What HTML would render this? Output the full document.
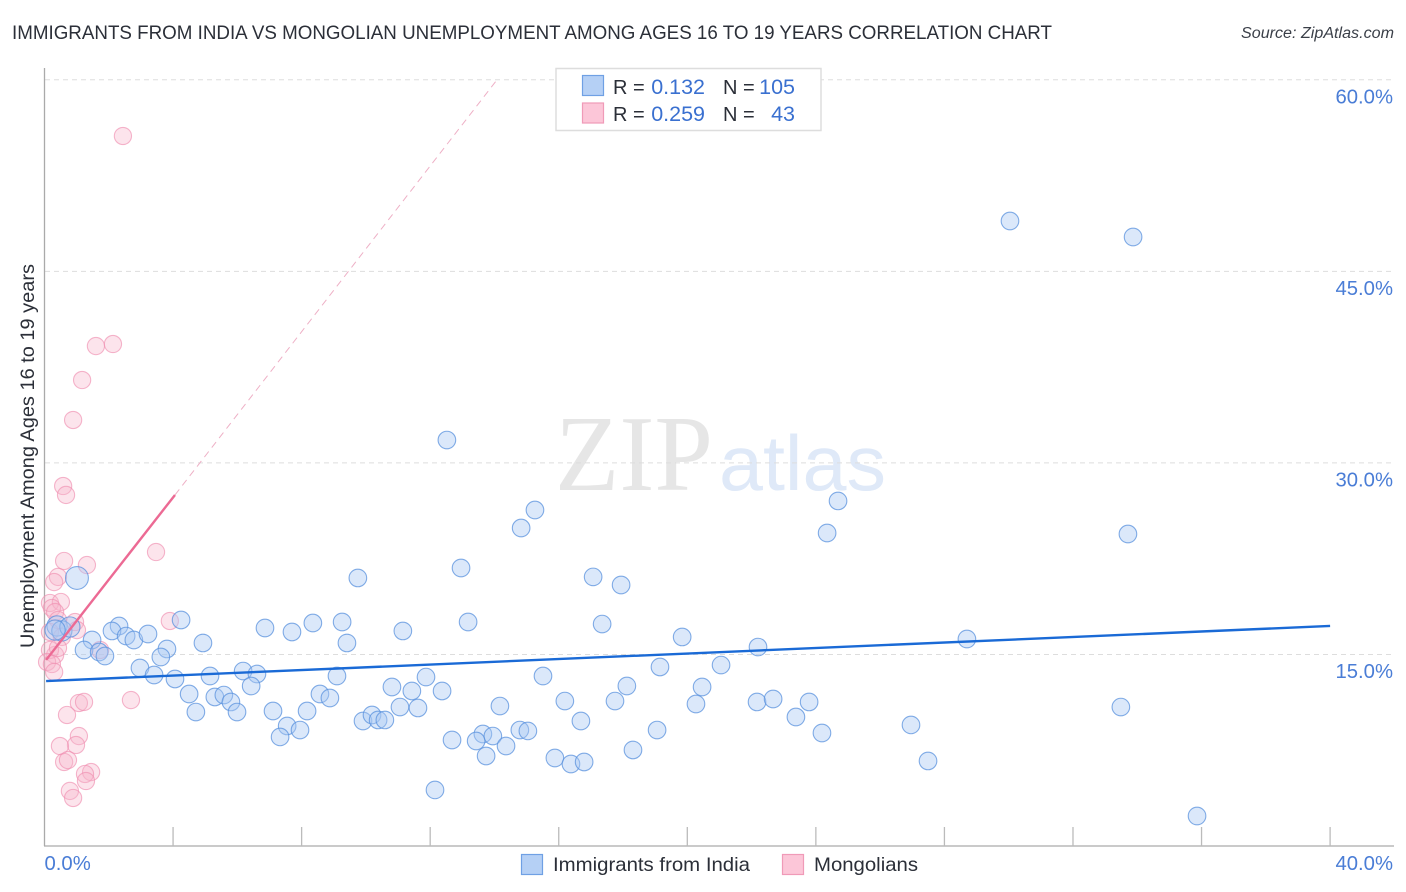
<!DOCTYPE html>
<html lang="en">
<head>
<meta charset="utf-8">
<title>Immigrants from India vs Mongolian Unemployment Correlation Chart</title>
<style>
html,body{margin:0;padding:0;background:#fff;width:1406px;height:892px;overflow:hidden}
svg{display:block;font-family:"Liberation Sans",sans-serif}
</style>
</head>
<body>
<svg id="chart" xmlns="http://www.w3.org/2000/svg" width="1406" height="892" viewBox="0 0 1406 892">
  <rect width="1406" height="892" fill="#ffffff"/>
  <text x="12" y="39" font-size="19.5" fill="#2b2f38" textLength="1040" lengthAdjust="spacingAndGlyphs">IMMIGRANTS FROM INDIA VS MONGOLIAN UNEMPLOYMENT AMONG AGES 16 TO 19 YEARS CORRELATION CHART</text>
  <text x="1241" y="38" font-size="15.5" font-style="italic" fill="#3a3f48" textLength="153" lengthAdjust="spacingAndGlyphs">Source: ZipAtlas.com</text>
  <g>
    <text x="555" y="490" font-family="'Liberation Serif',serif" font-size="108" fill="#e6e6e6" textLength="158" lengthAdjust="spacingAndGlyphs">ZIP</text>
    <text x="719" y="490" font-size="78" fill="#dfe9f8" textLength="167" lengthAdjust="spacingAndGlyphs">atlas</text>
  </g>
  <g id="grid"></g>
  <g id="axes"></g>
  <g id="pink-points"></g>
  <g id="blue-points"></g>
  <g id="trends"></g>
  <g id="tick-labels"></g>
  <text transform="translate(34,648) rotate(-90)" font-size="19.5" fill="#2b2f38" textLength="384" lengthAdjust="spacingAndGlyphs">Unemployment Among Ages 16 to 19 years</text>
  <g>
    <rect x="556" y="68.5" width="265" height="62" fill="#ffffff" stroke="#dddddd" stroke-width="1.5"/>
    <rect x="582.5" y="75.5" width="21" height="20" fill="#b5d0f5" stroke="#6fa0e4" stroke-width="1.2"/>
    <rect x="582.5" y="103" width="21" height="20" fill="#fcc6d8" stroke="#f09ab8" stroke-width="1.2"/>
    <g font-size="21.5">
      <text x="613" y="94" font-size="20" fill="#2b2f38">R =</text>
      <text x="705" y="94" fill="#3a70d0" text-anchor="end">0.132</text>
      <text x="723" y="94" font-size="20" fill="#2b2f38">N =</text>
      <text x="795" y="94" fill="#3a70d0" text-anchor="end">105</text>
      <text x="613" y="121" font-size="20" fill="#2b2f38">R =</text>
      <text x="705" y="121" fill="#3a70d0" text-anchor="end">0.259</text>
      <text x="723" y="121" font-size="20" fill="#2b2f38">N =</text>
      <text x="795" y="121" fill="#3a70d0" text-anchor="end">43</text>
    </g>
  </g>
  <g>
    <rect x="521.5" y="854.5" width="21" height="20" fill="#b5d0f5" stroke="#6fa0e4" stroke-width="1.2"/>
    <text x="553" y="871" font-size="19.5" fill="#2b2f38" textLength="197" lengthAdjust="spacingAndGlyphs">Immigrants from India</text>
    <rect x="782.5" y="854.5" width="21" height="20" fill="#fcc6d8" stroke="#f09ab8" stroke-width="1.2"/>
    <text x="814" y="871" font-size="19.5" fill="#2b2f38" textLength="104" lengthAdjust="spacingAndGlyphs">Mongolians</text>
  </g>
</svg>
<script>
const yTickValues = [15, 30, 45, 60];
const yTickLabels = ["15.0%", "30.0%", "45.0%", "60.0%"];
const xTickValues = [0, 4, 8, 12, 16, 20, 24, 28, 32, 36, 40];
const xEndValues = [0, 40];
const xEndLabels = ["0.0%", "40.0%"];

const indiaX = [30.04,33.87,12.52,15.26,14.83,24.69,24.35,33.71,12.96,9.75,17.07,17.94,1.01,4.25,2.32,2.10,2.54,2.78,3.22,1.48,1.23,1.70,1.88,3.81,3.62,4.93,6.86,7.70,8.35,9.26,9.41,11.15,13.18,17.35,19.84,22.20,28.70,2.97,3.41,4.06,5.15,6.18,6.61,6.43,9.10,11.87,15.51,19.15,21.05,18.12,20.46,4.50,5.30,5.58,5.80,4.71,5.99,7.11,8.17,8.57,8.88,10.81,11.43,12.37,11.06,11.62,14.17,16.19,17.75,20.27,22.17,22.67,23.79,23.38,16.69,9.91,10.19,10.38,10.59,7.55,7.95,7.33,12.68,13.64,13.43,13.95,14.79,15.04,14.36,13.74,19.06,18.31,15.88,16.38,16.79,24.19,26.96,27.49,33.49,12.15,35.86,0.39,0.54,0.79,0.33];
const indiaY = [48.94,47.69,31.79,26.31,24.90,27.02,24.51,24.43,21.77,20.99,21.07,20.44,20.99,17.70,17.23,16.84,16.44,16.13,16.60,16.13,15.35,15.19,14.88,15.43,14.80,15.90,17.07,16.76,17.46,17.54,15.90,16.84,17.54,17.38,16.37,15.58,16.21,13.94,13.39,13.08,13.31,13.70,13.47,12.53,13.31,13.23,13.31,14.02,14.17,12.53,12.45,11.90,11.67,11.82,11.28,10.49,10.49,10.57,10.57,11.90,11.59,12.45,12.14,12.14,10.88,10.81,10.96,11.35,11.35,11.12,11.28,11.51,11.28,10.10,9.79,9.79,10.26,9.87,9.87,9.40,9.08,8.54,8.30,8.77,8.22,8.61,9.08,9.01,7.83,7.05,9.08,7.52,6.89,6.42,6.58,8.85,9.48,6.66,10.88,4.39,2.35,17.23,16.84,17.15,16.91];
const indiaSize = [1,1,1,1,1,1,1,1,1,1,1,1,1.3,1,1,1,1,1,1,1,1,1,1,1,1,1,1,1,1,1,1,1,1,1,1,1,1,1,1,1,1,1,1,1,1,1,1,1,1,1,1,1,1,1,1,1,1,1,1,1,1,1,1,1,1,1,1,1,1,1,1,1,1,1,1,1,1,1,1,1,1,1,1,1,1,1,1,1,1,1,1,1,1,1,1,1,1,1,1,1,1,1.15,1.15,1.15,1.15];

const mongolX = [2.44,1.60,2.13,1.17,0.89,0.58,0.67,3.47,0.61,1.32,0.42,0.30,3.90,0.17,0.51,0.23,0.33,0.42,0.95,1.01,0.17,0.54,1.73,0.33,0.17,0.08,0.23,0.30,2.69,1.07,1.23,0.70,1.07,0.98,0.48,0.61,0.73,1.45,1.26,1.29,0.79,0.89,0.42];
const mongolY = [55.60,39.15,39.31,36.49,33.36,28.19,27.49,23.02,22.32,22.00,21.07,20.67,17.62,19.03,19.11,18.64,18.32,17.70,17.54,16.91,16.76,16.37,15.35,14.96,15.35,14.41,14.25,13.63,11.43,11.20,11.28,10.26,8.61,7.91,7.83,6.58,6.73,5.79,5.64,5.09,4.31,3.76,15.51];

const indiaTrendX = [0.05, 40];
const indiaTrendY = [12.92, 17.23];
const mongolSolidX = [0.05, 4.06];
const mongolSolidY = [14.57, 27.49];
const mongolDashX = [4.06, 14.08];
const mongolDashY = [27.49, 60];

const sx = v => 44.5 + v * 32.14;
const sy = v => 846 - v * 12.77;
const NS = "http://www.w3.org/2000/svg";
function mk(tag, parent, attrs) {
  const el = document.createElementNS(NS, tag);
  for (const k in attrs) el.setAttribute(k, attrs[k]);
  document.getElementById(parent).appendChild(el);
  return el;
}

yTickValues.forEach((v, i) => {
  const line = mk("line", "grid", {x1: 45, x2: 1394, y1: sy(v), y2: sy(v), stroke: "#dddddd", "stroke-width": 1, "stroke-dasharray": "5 4"});
  
  
  const t = mk("text", "tick-labels", {x: 1393, y: sy(v) + 23.5, "font-size": 20.3, fill: "#4a7dd6", "text-anchor": "end"});
  t.textContent = yTickLabels[i];
  
  
});

const yAxis = mk("line", "axes", {x1: 44.5, x2: 44.5, y1: 68, y2: 846, stroke: "#aaaaaa", "stroke-width": 1.3});


const xAxis = mk("line", "axes", {x1: 44, x2: 1394, y1: 846, y2: 846, stroke: "#aaaaaa", "stroke-width": 1.3});



xTickValues.forEach(v => {
  if (v === 0) return;
  const tick = mk("line", "axes", {x1: sx(v), x2: sx(v), y1: 827, y2: 846, stroke: "#bbbbbb", "stroke-width": 1.3});
  
  
});

xEndValues.forEach((v, i) => {
  const t = mk("text", "tick-labels", {x: i === 0 ? sx(v) : 1393, y: 870, "font-size": 20.3, fill: "#4a7dd6", "text-anchor": i === 0 ? "start" : "end"});
  t.textContent = xEndLabels[i];
  
  
});

mongolX.forEach((v, i) => {
  const c = mk("circle", "pink-points", {cx: sx(v), cy: sy(mongolY[i]), r: 8.6, fill: "#f8b4cb", "fill-opacity": 0.36, stroke: "#f08fb0", "stroke-opacity": 0.65, "stroke-width": 1.1});
  
  
});

indiaX.forEach((v, i) => {
  const c = mk("circle", "blue-points", {cx: sx(v), cy: sy(indiaY[i]), r: 8.8 * indiaSize[i], fill: "#a9c9f4", "fill-opacity": 0.42, stroke: "#5a92de", "stroke-opacity": 0.75, "stroke-width": 1.1});
  
  
});

const t1 = mk("line", "trends", {x1: sx(indiaTrendX[0]), y1: sy(indiaTrendY[0]), x2: sx(indiaTrendX[1]), y2: sy(indiaTrendY[1]), stroke: "#1a6ad6", "stroke-width": 2.4});


const t2 = mk("line", "trends", {x1: sx(mongolSolidX[0]), y1: sy(mongolSolidY[0]), x2: sx(mongolSolidX[1]), y2: sy(mongolSolidY[1]), stroke: "#ec6a94", "stroke-width": 2.4});


const t3 = mk("line", "trends", {x1: sx(mongolDashX[0]), y1: sy(mongolDashY[0]), x2: sx(mongolDashX[1]), y2: sy(mongolDashY[1]), stroke: "#eeb0c6", "stroke-width": 1, "stroke-dasharray": "7 5"});


</script>
</body>
</html>
